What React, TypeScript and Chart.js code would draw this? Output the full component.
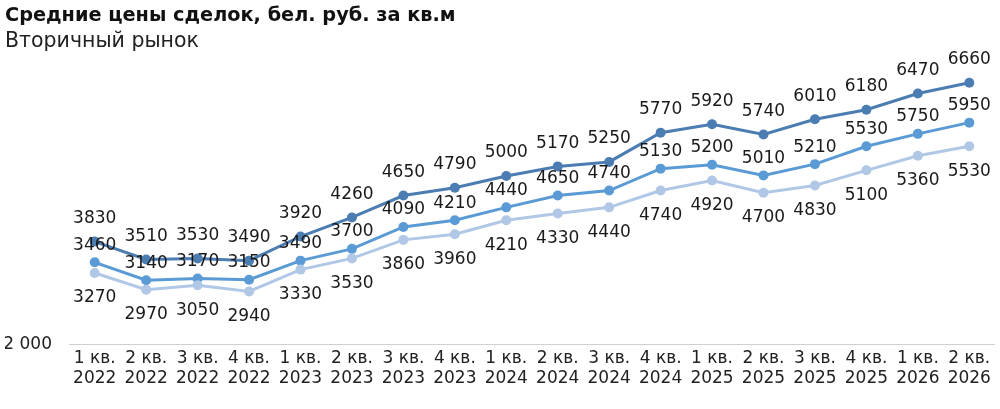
import { useEffect, useRef } from "react"
import { Chart, registerables, Plugin } from "chart.js"

Chart.register(...registerables)

const quarters = ["1 кв.", "2 кв.", "3 кв.", "4 кв."]
const years = ["2022", "2023", "2024", "2025", "2026"]
const labels: string[][] = []
for (const y of years) {
    for (const q of quarters) {
        labels.push([q, y])
    }
}
const categories = labels.slice(0, 18)

const seriesDark = [3830, 3510, 3530, 3490, 3920, 4260, 4650, 4790, 5000, 5170, 5250, 5770, 5920, 5740, 6010, 6180, 6470, 6660]
const seriesMid = [3460, 3140, 3170, 3150, 3490, 3700, 4090, 4210, 4440, 4650, 4740, 5130, 5200, 5010, 5210, 5530, 5750, 5950]
const seriesLight = [3270, 2970, 3050, 2940, 3330, 3530, 3860, 3960, 4210, 4330, 4440, 4740, 4920, 4700, 4830, 5100, 5360, 5530]

const yMin = 2000
const yMax = 7000

const FONT = "'DejaVu Sans', sans-serif"

// baseline at the axis minimum + value labels above/below the points
const pointLabels: Plugin<'line'> = {
    id: 'pointLabels',
    beforeDatasetsDraw(chart) {
        const ctx = chart.ctx
        const y = Math.round(chart.scales.y.getPixelForValue(yMin)) + 0.5
        ctx.save()
        ctx.strokeStyle = '#d0d0d0'
        ctx.lineWidth = 1
        ctx.beginPath()
        ctx.moveTo(chart.chartArea.left, y)
        ctx.lineTo(chart.chartArea.right, y)
        ctx.stroke()
        ctx.restore()
    },
    afterDatasetsDraw(chart) {
        const ctx = chart.ctx
        ctx.save()
        ctx.font = `17px ${FONT}`
        ctx.fillStyle = '#1a1a1a'
        ctx.textAlign = 'center'
        ctx.textBaseline = 'middle'
        chart.data.datasets.forEach((ds: any, i) => {
            const meta = chart.getDatasetMeta(i)
            const offset = ds.labelOffset as number
            meta.data.forEach((pt, j) => {
                ctx.fillText(String(ds.data[j]), pt.x, pt.y + offset)
            })
        })
        ctx.restore()
    }
}

export default function App() {
    const canvasRef = useRef<HTMLCanvasElement>(null)

    useEffect(() => {
        document.body.style.margin = '0'
        const ctx = canvasRef.current
        if (!ctx) return

        const line = (data: number[], color: string, labelOffset: number) => ({
            data,
            borderColor: color,
            backgroundColor: color,
            borderWidth: 3,
            pointRadius: 5,
            pointHoverRadius: 5,
            pointBorderWidth: 0,
            tension: 0,
            labelOffset,
        })

        const myChart = new Chart(ctx, {
            type: 'line',
            data: {
                labels: categories,
                datasets: [
                    line(seriesLight, '#b0c8e6', 25),
                    line(seriesMid, '#5b9bd5', -17),
                    line(seriesDark, '#4c7db2', -23),
                ] as any,
            },
            options: {
                animation: false,
                responsive: true,
                maintainAspectRatio: false,
                layout: { padding: { left: 5, right: 4, top: 2, bottom: 16 } },
                plugins: {
                    legend: { display: false },
                    tooltip: { enabled: false },
                    title: {
                        display: true,
                        text: 'Средние цены сделок, бел. руб. за кв.м',
                        align: 'start',
                        color: '#111',
                        font: { family: FONT, size: 19.3, weight: 'bold' },
                        padding: { top: 2, bottom: 2 },
                    },
                    subtitle: {
                        display: true,
                        text: 'Вторичный рынок',
                        align: 'start',
                        color: '#222',
                        font: { family: FONT, size: 20.5 },
                        padding: { top: 0, bottom: 10 },
                    },
                },
                scales: {
                    x: {
                        offset: true,
                        grid: { display: false, drawTicks: false },
                        border: { display: false },
                        ticks: {
                            color: '#222',
                            font: { family: FONT, size: 17 },
                            padding: 4,
                            maxRotation: 0,
                            autoSkip: false,
                        },
                    },
                    y: {
                        min: yMin,
                        max: yMax,
                        border: { display: false },
                        afterFit: (scale: any) => { scale.width = 64 },
                        grid: { display: false, drawTicks: false },
                        ticks: {
                            stepSize: yMax - yMin,
                            padding: 17,
                            color: '#222',
                            font: { family: FONT, size: 17 },
                            callback: (v: any) => v === yMin ? '2 000' : '',
                        },
                    },
                },
            },
            plugins: [pointLabels],
        })

        return () => {
            myChart.destroy()
        }
    }, [])

    return (
        <div style={{ width: 1000, height: 409, position: 'relative' }}>
            <canvas ref={canvasRef}></canvas>
        </div>
    )
}
